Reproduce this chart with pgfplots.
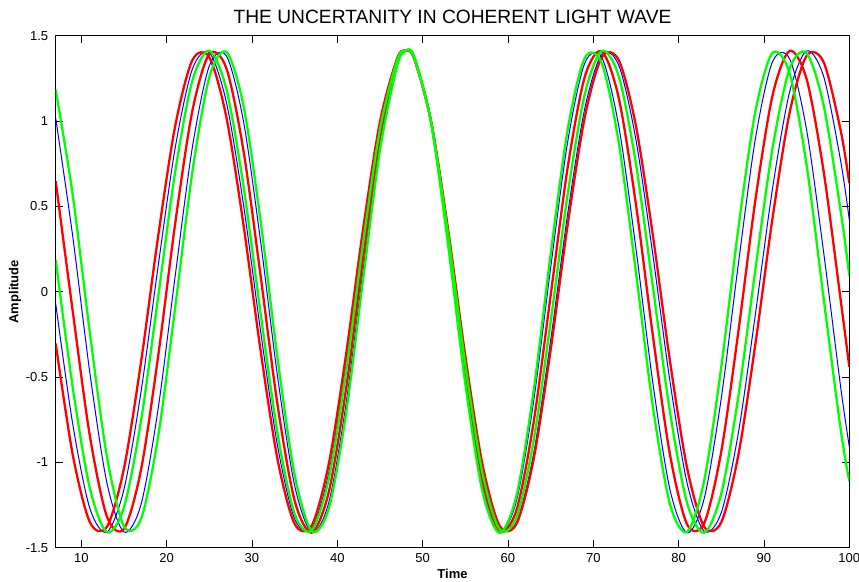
\documentclass[border=0pt]{standalone}
\usepackage{fontspec}
\setmainfont{Liberation Sans}
\usepackage{pgfplots}
\pgfplotsset{compat=1.18}
\begin{document}
\begin{tikzpicture}
\begin{axis}[
  width=793.6pt, height=512pt, scale only axis,
  xmin=7, xmax=100, ymin=-1.5, ymax=1.5,
  xtick={10,20,...,100},
  ytick={-1.5,-1,-0.5,0,0.5,1,1.5},
  yticklabels={-1.5,-1,-0.5,0,0.5,1,1.5},
  tick align=inside, tick pos=both,
  major tick length=7.7pt,
  axis line style={line width=0.8pt},
  every tick/.style={black, line width=0.7pt},
  ticklabel style={font=\fontsize{13}{15}\selectfont},
  xticklabel style={yshift=-2pt},
  yticklabel style={xshift=-4pt},
  /pgf/number format/assume math mode=true,
  title={THE UNCERTANITY IN COHERENT LIGHT WAVE},
  title style={font=\fontsize{19.2}{22}\selectfont, at={(axis description cs:0.5,1.025)}, anchor=center},
  xlabel={Time}, ylabel={Amplitude},
  xlabel style={font=\bfseries\fontsize{13}{15}\selectfont, at={(axis description cs:0.5,-0.0514)}, anchor=center},
  ylabel style={font=\bfseries\fontsize{13}{15}\selectfont, at={(axis description cs:-0.0513,0.5)}, anchor=center},
  no markers,
  every axis plot/.append style={smooth, line join=round},
]
% blue
\addplot[color=blue, line width=1pt] coordinates {
(7,1.017)(9,0.323)(11,-0.474)(13,-1.120)(15,-1.408)(17,-1.247)(19,-0.688)(21,0.091)(23,0.841)(25,1.323)(27,1.382)(29,1.000)(31,0.299)(33,-0.497)(35,-1.135)(37,-1.411)(39,-1.236)(41,-0.666)(43,0.115)(45,0.860)(47,1.331)(48,1.412)(49,1.377)(51,0.983)(53,0.276)(55,-0.520)(57,-1.150)(59,-1.412)(61,-1.224)(63,-0.645)(65,0.139)(67,0.879)(69,1.339)(71,1.372)(73,0.966)(75,0.252)(77,-0.542)(79,-1.163)(81,-1.413)(83,-1.211)(85,-0.623)(87,0.163)(89,0.898)(91,1.347)(93,1.365)(95,0.947)(97,0.228)(99,-0.564)(100,-0.908)
};
\addplot[color=blue, line width=1pt] coordinates {
(7,-0.070)(9,-0.777)(11,-1.269)(13,-1.409)(15,-1.158)(17,-0.586)(19,0.148)(21,0.842)(23,1.302)(25,1.401)(27,1.111)(29,0.513)(31,-0.227)(33,-0.904)(35,-1.331)(37,-1.389)(39,-1.061)(41,-0.439)(43,0.305)(45,0.964)(47,1.356)(48,1.414)(49,1.372)(51,1.007)(53,0.363)(55,-0.381)(57,-1.020)(59,-1.376)(61,-1.350)(63,-0.950)(65,-0.286)(67,0.457)(69,1.073)(71,1.392)(73,1.325)(75,0.889)(77,0.208)(79,-0.531)(81,-1.123)(83,-1.404)(85,-1.294)(87,-0.827)(89,-0.130)(91,0.604)(93,1.169)(95,1.411)(97,1.260)(99,0.762)(100,0.421)
};
% red
\addplot[color=red, line width=2.3pt] coordinates {
(7,0.647)(9,-0.116)(11,-0.844)(13,-1.317)(15,-1.390)(17,-1.043)(19,-0.380)(21,0.399)(23,1.056)(25,1.393)(27,1.309)(29,0.828)(31,0.097)(33,-0.664)(35,-1.224)(37,-1.412)(39,-1.174)(41,-0.579)(43,0.190)(45,0.903)(47,1.342)(48,1.413)(49,1.374)(51,0.990)(53,0.307)(55,-0.469)(57,-1.104)(59,-1.404)(61,-1.279)(63,-0.767)(65,-0.022)(67,0.729)(69,1.259)(71,1.408)(73,1.131)(75,0.510)(77,-0.265)(79,-0.959)(81,-1.364)(83,-1.355)(85,-0.935)(87,-0.233)(89,0.539)(91,1.149)(93,1.411)(95,1.245)(97,0.702)(99,-0.053)(100,-0.440)
};
\addplot[color=red, line width=2.3pt] coordinates {
(7,-0.304)(9,-0.956)(11,-1.350)(13,-1.378)(15,-1.035)(17,-0.412)(19,0.323)(21,0.970)(23,1.355)(25,1.374)(27,1.023)(29,0.394)(31,-0.341)(33,-0.983)(35,-1.360)(37,-1.370)(39,-1.009)(41,-0.377)(43,0.359)(45,0.996)(47,1.365)(48,1.414)(49,1.365)(51,0.996)(53,0.359)(55,-0.377)(57,-1.009)(59,-1.370)(61,-1.360)(63,-0.983)(65,-0.341)(67,0.394)(69,1.023)(71,1.374)(73,1.355)(75,0.970)(77,0.323)(79,-0.412)(81,-1.035)(83,-1.378)(85,-1.350)(87,-0.956)(89,-0.304)(91,0.430)(93,1.048)(95,1.382)(97,1.344)(99,0.942)(100,0.636)
};
% green
\addplot[color=green, line width=2.3pt] coordinates {
(7,1.184)(9,0.565)(11,-0.239)(13,-0.965)(15,-1.374)(17,-1.331)(19,-0.851)(21,-0.093)(23,0.697)(25,1.257)(27,1.405)(29,1.092)(31,0.419)(33,-0.391)(35,-1.073)(37,-1.403)(39,-1.270)(41,-0.722)(43,0.064)(45,0.829)(47,1.322)(48,1.410)(49,1.380)(51,0.986)(53,0.268)(55,-0.538)(57,-1.168)(59,-1.413)(61,-1.195)(63,-0.584)(65,0.219)(67,0.950)(69,1.369)(71,1.338)(73,0.868)(75,0.113)(77,-0.679)(79,-1.248)(81,-1.407)(83,-1.105)(85,-0.439)(87,0.372)(89,1.059)(91,1.399)(93,1.280)(95,0.740)(97,-0.043)(99,-0.812)(100,-1.110)
};
\addplot[color=green, line width=2.3pt] coordinates {
(7,0.186)(9,-0.563)(11,-1.151)(13,-1.409)(15,-1.263)(17,-0.756)(19,-0.032)(21,0.702)(23,1.234)(25,1.412)(27,1.187)(29,0.620)(31,-0.123)(33,-0.832)(35,-1.302)(37,-1.399)(39,-1.096)(41,-0.477)(43,0.277)(45,0.952)(47,1.355)(48,1.414)(49,1.370)(51,0.991)(53,0.329)(55,-0.427)(57,-1.061)(59,-1.391)(61,-1.322)(63,-0.874)(65,-0.176)(67,0.572)(69,1.157)(71,1.411)(73,1.259)(75,0.748)(77,0.022)(79,-0.710)(81,-1.239)(83,-1.412)(85,-1.182)(87,-0.612)(89,0.133)(91,0.840)(93,1.306)(95,1.398)(97,1.090)(99,0.469)(100,0.095)
};
\end{axis}
\pgfresetboundingbox
\path[use as bounding box] ([xshift=-55.7pt,yshift=-33.3pt]current axis.south west) rectangle ([xshift=9.7pt,yshift=35.7pt]current axis.north east);
\end{tikzpicture}
\end{document}
